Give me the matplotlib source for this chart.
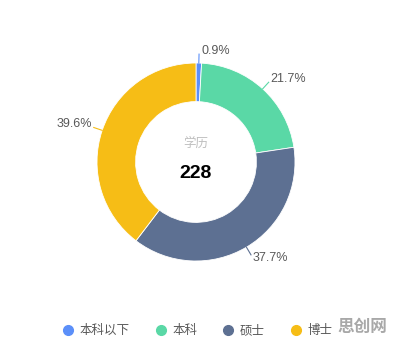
import numpy as np
import matplotlib.pyplot as plt
from matplotlib.lines import Line2D

plt.rcParams['font.family'] = ['Noto Sans CJK SC', 'DejaVu Sans']

categories = ['本科以下', '本科', '硕士', '博士']
shares = [0.9, 21.7, 37.7, 39.6]
total = 228
colors = ['#5B8FF9', '#5AD8A6', '#5D7092', '#F6BD16']

W, H = 393, 344
fig = plt.figure(figsize=(W / 100, H / 100), dpi=100)
ax = fig.add_axes([0, 0, 1, 1])

cx, cy, R = 196, H - 162, 99
wedges, _ = ax.pie(shares, colors=colors, startangle=90, counterclock=False,
                   center=(cx, cy), radius=R, frame=True,
                   wedgeprops=dict(width=R * 0.39, edgecolor='white', linewidth=0.6))
ax.set_xlim(0, W)
ax.set_ylim(0, H)
ax.set_aspect('equal')
ax.axis('off')

# outside labels with short leader lines
for w, s in zip(wedges, shares):
    mid = np.deg2rad((w.theta1 + w.theta2) / 2)
    x0, y0 = cx + R * np.cos(mid), cy + R * np.sin(mid)
    x1, y1 = cx + R * 1.09 * np.cos(mid), cy + R * 1.09 * np.sin(mid)
    ax.plot([x0, x1], [y0, y1], color=w.get_facecolor(), lw=0.8)
    right = np.cos(mid) >= 0
    ax.text(x1 + (2 if right else -2), y1 + 3 * np.sign(np.sin(mid)), f'{s}%',
            ha='left' if right else 'right', va='center', fontsize=9,
            family='Liberation Sans', color='#595959')

ax.text(cx, cy + 19, '学历', ha='center', va='center', fontsize=9, color='#bfbfbf')
ax.text(cx, cy - 11, str(total), ha='center', va='center', fontsize=14,
        fontweight='bold', family='Liberation Sans', color='#000000')

handles = [Line2D([], [], marker='o', ls='', markersize=7, markerfacecolor=c,
                  markeredgecolor=c) for c in colors]
fig.legend(handles, categories, loc='lower center', bbox_to_anchor=(0.5, -0.012),
           ncol=4, frameon=False, fontsize=9, labelcolor='#595959',
           handletextpad=0.3, columnspacing=1.9, handlelength=1.2)

ax.text(387, H - 327, '思创网', ha='right', va='center', fontsize=12,
        fontweight='bold', color='#999999', alpha=0.85)

fig.savefig('out.png', dpi=100)
